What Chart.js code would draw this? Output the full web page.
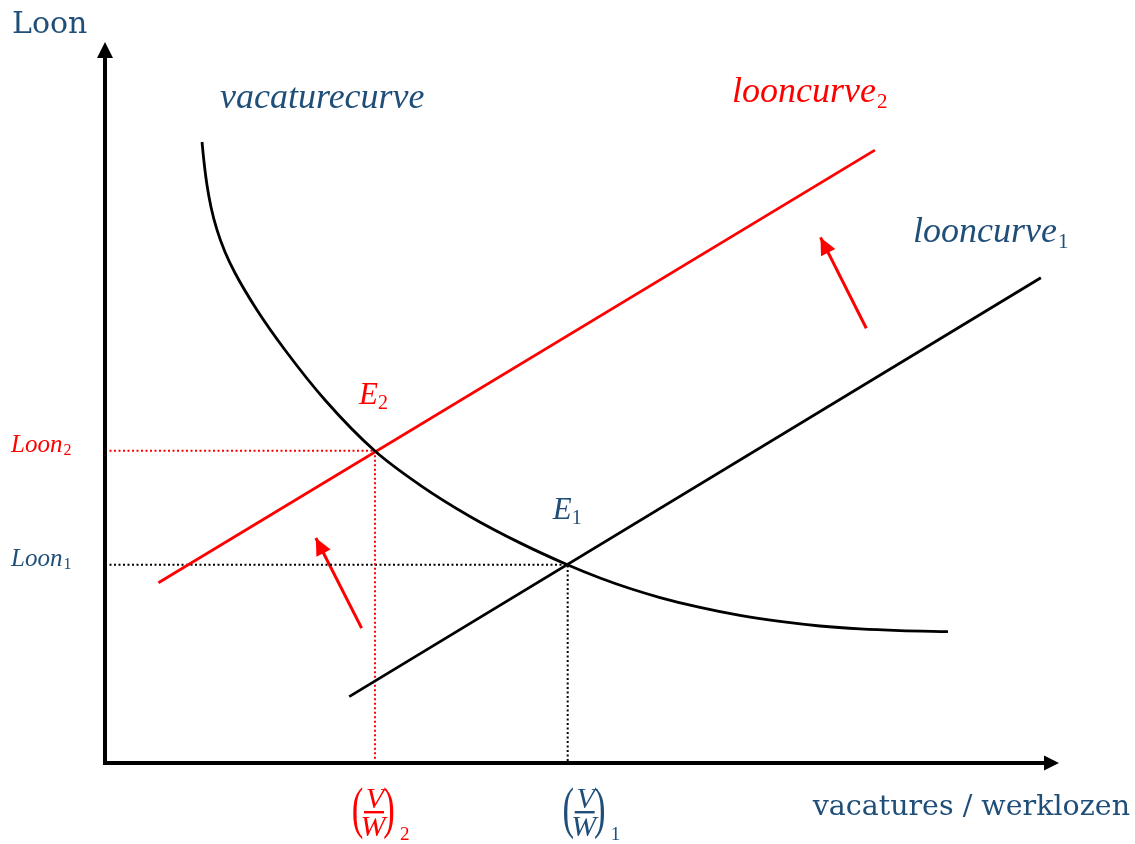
<!DOCTYPE html>
<html>
<head>
<meta charset="utf-8">
<script src="https://cdn.jsdelivr.net/npm/chart.js@4/dist/chart.umd.min.js"></script>
<style>
  html, body { margin: 0; padding: 0; background: #ffffff; }
  #wrap { width: 1135px; height: 844px; }
</style>
</head>
<body>
<div id="wrap"><canvas id="c" width="1135" height="844"></canvas></div>
<script>
// ---- data (conceptual units, x: 0..100, y: 0..100) ----
const vacatureX = [10.17, 10.38, 10.69, 11.11, 11.74, 12.58, 13.63, 15.93, 18.87, 23.06, 28.30, 33.02, 38.26, 43.50, 48.53, 51.89, 55.03, 58.18, 62.37, 66.56, 70.75, 74.95, 79.14, 83.33, 88.36];
const vacatureY = [86.13, 83.36, 80.17, 77.12, 73.93, 70.87, 67.96, 62.83, 57.28, 50.35, 43.27, 38.55, 34.20, 30.53, 27.46, 25.66, 24.20, 22.95, 21.57, 20.46, 19.63, 19.00, 18.59, 18.36, 18.22];
const loon1X = [25.6, 98.1];
const loon1Y = [9.2, 67.3];
const loon2X = [5.6, 80.7];
const loon2Y = [25.0, 85.0];
const equilibrium1 = [48.5, 27.5];
const equilibrium2 = [28.3, 43.3];
const shiftArrow1X = [26.9, 22.1];
const shiftArrow1Y = [18.7, 31.2];
const shiftArrow2X = [79.8, 75.0];
const shiftArrow2Y = [60.3, 72.9];
const axisTitles = ['Loon', 'vacatures / werklozen'];
const curveLabels = ['vacaturecurve', 'looncurve', 'looncurve'];
const yTickLabels = ['Loon', 'Loon'];
const tickSubs = ['1', '2'];

const RED = '#ff0000';
const BLUE = '#1f4e79';
const BLACK = '#000000';

function pts(xs, ys) { return xs.map((x, i) => ({ x: x, y: ys[i] })); }

const datasets = [
  { label: 'vacaturecurve', data: pts(vacatureX, vacatureY), borderColor: BLACK, borderWidth: 2.8, cubicInterpolationMode: 'monotone', pointRadius: 0 },
  { label: 'looncurve1', data: pts(loon1X, loon1Y), borderColor: BLACK, borderWidth: 2.8, pointRadius: 0 },
  { label: 'looncurve2', data: pts(loon2X, loon2Y), borderColor: RED, borderWidth: 2.8, pointRadius: 0 },
  { label: 'guide2', data: [{x: 0, y: equilibrium2[1]}, {x: equilibrium2[0], y: equilibrium2[1]}, {x: equilibrium2[0], y: 0}], borderColor: RED, borderWidth: 2, borderDash: [2, 2.5], pointRadius: 0 },
  { label: 'guide1', data: [{x: 0, y: equilibrium1[1]}, {x: equilibrium1[0], y: equilibrium1[1]}, {x: equilibrium1[0], y: 0}], borderColor: BLACK, borderWidth: 2, borderDash: [2, 2.5], pointRadius: 0 },
  { label: 'shift1', data: pts(shiftArrow1X, shiftArrow1Y), borderColor: RED, borderWidth: 3, pointRadius: 0, arrowHead: true },
  { label: 'shift2', data: pts(shiftArrow2X, shiftArrow2Y), borderColor: RED, borderWidth: 3, pointRadius: 0, arrowHead: true }
];

const ITALIC = "'Liberation Serif', serif";
const UPRIGHT = "'DejaVu Serif', serif";

function subText(ctx, x, y, main, sub, font, subFont, color, gap, dy) {
  ctx.save();
  ctx.fillStyle = color;
  ctx.textAlign = 'left';
  ctx.textBaseline = 'alphabetic';
  ctx.font = font;
  ctx.fillText(main, x, y);
  const w = ctx.measureText(main).width;
  ctx.font = subFont;
  ctx.fillText(sub, x + w + gap, y + dy);
  ctx.restore();
}

function paren(ctx, ch, x, y) {
  ctx.save();
  ctx.translate(x, y);
  ctx.scale(0.6, 1);
  ctx.font = "58px " + ITALIC;
  ctx.textAlign = 'center';
  ctx.fillText(ch, 0, 0);
  ctx.restore();
}

function fraction(ctx, cx, barY, color, sub) {
  ctx.save();
  ctx.fillStyle = color;
  ctx.textBaseline = 'alphabetic';
  ctx.textAlign = 'center';
  ctx.font = "italic 30px " + ITALIC;
  ctx.fillText('V', cx + 1, barY - 4);
  ctx.fillText('W', cx - 1, barY + 24);
  ctx.fillRect(cx - 10, barY - 1, 20, 2.4);
  paren(ctx, '(', cx - 16.5, barY + 15);
  paren(ctx, ')', cx + 15, barY + 15);
  ctx.font = "19px " + ITALIC;
  ctx.textAlign = 'left';
  ctx.fillText(sub, cx + 26, barY + 28);
  ctx.restore();
}

const decorPlugin = {
  id: 'decor',
  afterDatasetsDraw(chart) {
    const ctx = chart.ctx;
    const xs = chart.scales.x, ys = chart.scales.y;
    const area = chart.chartArea;
    const x0 = xs.getPixelForValue(0), y0 = ys.getPixelForValue(0);
    // arrow heads for shift arrows
    chart.data.datasets.forEach((ds, i) => {
      if (!ds.arrowHead) return;
      const meta = chart.getDatasetMeta(i);
      const p = meta.data;
      const a = p[p.length - 2], b = p[p.length - 1];
      const ang = Math.atan2(b.y - a.y, b.x - a.x);
      const L = 17, H = 8;
      ctx.save();
      ctx.fillStyle = ds.borderColor;
      ctx.translate(b.x, b.y);
      ctx.rotate(ang);
      ctx.beginPath();
      ctx.moveTo(0, 0);
      ctx.lineTo(-L, -H);
      ctx.lineTo(-L, H);
      ctx.closePath();
      ctx.fill();
      ctx.restore();
    });
    // axes with arrows
    ctx.save();
    ctx.strokeStyle = BLACK;
    ctx.fillStyle = BLACK;
    ctx.lineWidth = 4;
    ctx.beginPath();
    ctx.moveTo(x0, y0 + 2);
    ctx.lineTo(x0, area.top + 14);
    ctx.moveTo(x0 - 2, y0);
    ctx.lineTo(area.right - 14, y0);
    ctx.stroke();
    ctx.beginPath();
    ctx.moveTo(x0, area.top);
    ctx.lineTo(x0 - 8, area.top + 16);
    ctx.lineTo(x0 + 8, area.top + 16);
    ctx.closePath();
    ctx.fill();
    ctx.beginPath();
    ctx.moveTo(area.right, y0);
    ctx.lineTo(area.right - 15, y0 - 7.5);
    ctx.lineTo(area.right - 15, y0 + 7.5);
    ctx.closePath();
    ctx.fill();
    ctx.restore();

    // axis titles
    ctx.save();
    ctx.fillStyle = BLUE;
    ctx.textBaseline = 'alphabetic';
    ctx.textAlign = 'left';
    ctx.font = "30px " + UPRIGHT;
    ctx.fillText(axisTitles[0], 12, 33);
    ctx.font = "28.5px " + UPRIGHT;
    ctx.textAlign = 'right';
    ctx.fillText(axisTitles[1], 1130, 815);
    ctx.restore();

    // curve labels
    ctx.save();
    ctx.fillStyle = BLUE;
    ctx.font = "italic 36px " + ITALIC;
    ctx.textAlign = 'left';
    ctx.fillText(curveLabels[0], 220, 108);
    ctx.restore();
    subText(ctx, 732, 102, curveLabels[2], '2', "italic 36px " + ITALIC, "21px " + ITALIC, RED, 1, 6);
    subText(ctx, 913, 242, curveLabels[1], '1', "italic 36px " + ITALIC, "21px " + ITALIC, BLUE, 1, 6);

    // equilibrium labels
    const e1x = xs.getPixelForValue(equilibrium1[0]), e1y = ys.getPixelForValue(equilibrium1[1]);
    const e2x = xs.getPixelForValue(equilibrium2[0]), e2y = ys.getPixelForValue(equilibrium2[1]);
    subText(ctx, e2x - 16, e2y - 47, 'E', '2', "italic 31px " + ITALIC, "20px " + ITALIC, RED, 0, 5);
    subText(ctx, e1x - 15, e1y - 46, 'E', '1', "italic 31px " + ITALIC, "20px " + ITALIC, BLUE, 0, 5);

    // y tick labels
    subText(ctx, 11, e2y + 1, yTickLabels[1], tickSubs[1], "italic 25px " + ITALIC, "16px " + ITALIC, RED, 1, 3);
    subText(ctx, 11, e1y + 1, yTickLabels[0], tickSubs[0], "italic 25px " + ITALIC, "16px " + ITALIC, BLUE, 1, 3);

    // x tick labels (fractions)
    fraction(ctx, e2x - 1, y0 + 49, RED, tickSubs[1]);
    fraction(ctx, e1x + 17, y0 + 49, BLUE, tickSubs[0]);
  }
};

new Chart(document.getElementById('c'), {
  type: 'line',
  data: { datasets: datasets },
  options: {
    responsive: false,
    animation: false,
    devicePixelRatio: 1,
    layout: { padding: { left: 105, right: 76, top: 42, bottom: 81 } },
    plugins: { legend: { display: false }, tooltip: { enabled: false } },
    scales: {
      x: { type: 'linear', min: 0, max: 100, display: false },
      y: { type: 'linear', min: 0, max: 100, display: false }
    },
    elements: { line: { fill: false, borderCapStyle: 'butt' } }
  },
  plugins: [decorPlugin]
});
</script>
</body>
</html>
